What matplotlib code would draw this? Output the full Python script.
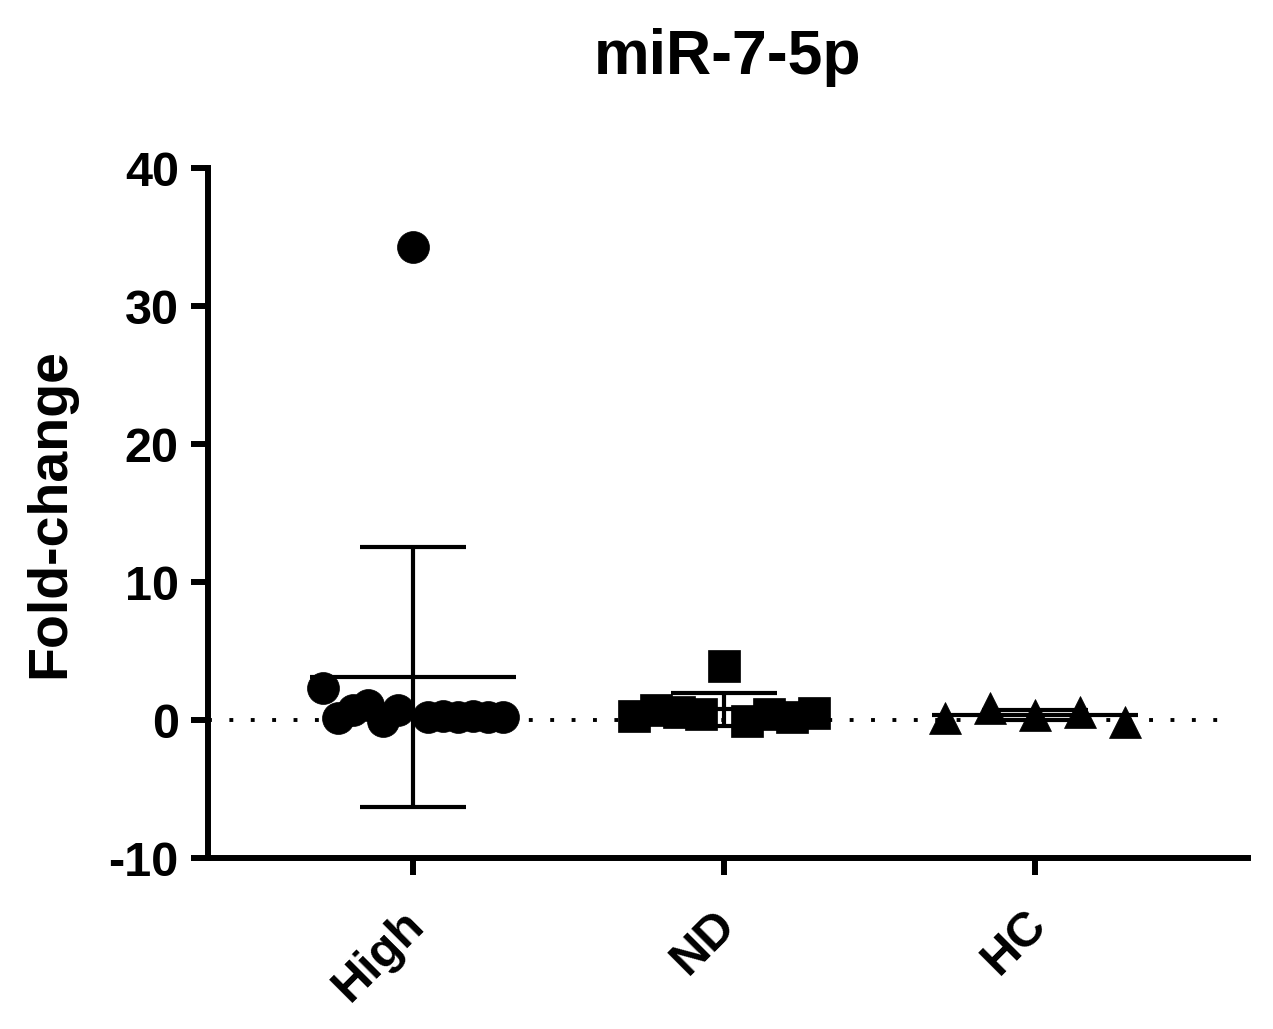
import matplotlib
matplotlib.use('Agg')
import matplotlib.pyplot as plt
import matplotlib.transforms as mtransforms
import numpy as np

# valores (fold-change), da esquerda para a direita em cada grupo
grupos = ['High', 'ND', 'HC']
high_vals = [2.3, 0.15, 0.7, 1.1, -0.1, 0.7, 34.3, 0.2, 0.3, 0.2, 0.3, 0.2, 0.2]
nd_vals = [0.3, 0.7, 0.6, 0.4, 3.9, -0.1, 0.4, 0.2, 0.5]
hc_vals = [0.15, 0.85, 0.35, 0.6, -0.15]
marcadores = ['o', 's', '^']
y_ticks = [-10, 0, 10, 20, 30, 40]


def main():
    plt.rcParams['font.family'] = ['Liberation Sans', 'DejaVu Sans']
    plt.rcParams['font.weight'] = 'bold'
    plt.rcParams['axes.unicode_minus'] = False

    fig = plt.figure(figsize=(12.73, 10.29), dpi=100)
    ax = fig.add_axes([208 / 1273, 1 - 858 / 1029, 1040 / 1273, 690 / 1029])

    # linha pontilhada no zero
    ax.axhline(0, xmin=0, xmax=0.98, color='black', lw=2.8, linestyle=(0, (1, 4.5)), zorder=1)

    dados = [high_vals, nd_vals, hc_vals]
    for i, vals in enumerate(dados):
        vals = np.array(vals)
        xs = i + np.linspace(-0.29, 0.29, len(vals))
        ax.plot(xs, vals, linestyle='none', marker=marcadores[i], markersize=23,
                color='black', mec='black', mew=0.5, zorder=4)

        media = vals.mean()
        dp = vals.std(ddof=1)
        ax.hlines(media, i - 0.33, i + 0.33, color='black', lw=3, zorder=3)
        ax.errorbar(i, media, yerr=dp, fmt='none', ecolor='black', elinewidth=3,
                    capsize=38, capthick=3, zorder=3)

    ax.set_xlim(-0.659, 2.685)
    ax.set_ylim(-10, 40)
    ax.set_yticks(y_ticks)
    ax.set_xticks(range(len(grupos)))

    for s in ['top', 'right']:
        ax.spines[s].set_visible(False)
    for s in ['left', 'bottom']:
        ax.spines[s].set_linewidth(4.3)

    ax.tick_params(axis='both', width=4.3, length=12, labelsize=35)
    ax.tick_params(axis='y', pad=9)
    ax.tick_params(axis='x', pad=37.5)

    ax.set_xticklabels(grupos, rotation=45, ha='right', va='baseline', rotation_mode='anchor')
    offset = mtransforms.ScaledTranslation(13 / 100, 0, fig.dpi_scale_trans)
    for lbl in ax.get_xticklabels():
        lbl.set_transform(lbl.get_transform() + offset)

    ax.set_ylabel('Fold-change', fontsize=40, fontweight='bold', labelpad=23)
    ax.set_title('miR-7-5p', fontsize=45, fontweight='bold', pad=68)

    fig.savefig('out.png', dpi=100)


if __name__ == "__main__":
    main()
